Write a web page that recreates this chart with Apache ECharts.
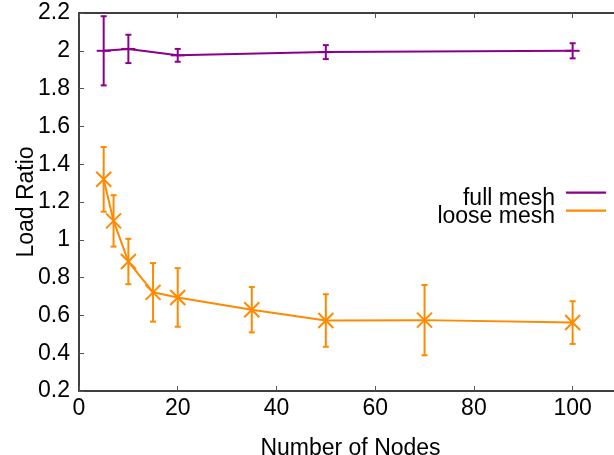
<!DOCTYPE html>
<html>
<head>
<meta charset="utf-8">
<title>Load Ratio</title>
<script src="https://cdn.jsdelivr.net/npm/echarts@6/dist/echarts.min.js"></script>
<style>
  html, body { margin: 0; padding: 0; background: #fff; }
  #main { width: 614px; height: 455px; }
</style>
</head>
<body>
<div id="main"></div>
<script>
// data
var nodesFull = [5, 10, 20, 50, 100];
var fullMesh = [2.00, 2.01, 1.976, 1.993, 2.00];
var fullErr = [0.183, 0.075, 0.034, 0.037, 0.04];

var nodesLoose = [5, 7, 10, 15, 20, 35, 50, 70, 100];
var looseMesh = [1.32, 1.10, 0.885, 0.722, 0.695, 0.63, 0.573, 0.575, 0.562];
var looseErr = [0.171, 0.136, 0.12, 0.155, 0.155, 0.12, 0.139, 0.186, 0.113];

var FONT = 'Liberation Sans, Arial, sans-serif';
var PURPLE = '#8b008b';
var ORANGE = '#ff8a00';

function zip2(xs, ys) {
  var out = [];
  for (var i = 0; i < xs.length; i++) out.push([xs[i], ys[i]]);
  return out;
}
function zip3(xs, ys, es) {
  var out = [];
  for (var i = 0; i < xs.length; i++) out.push([xs[i], ys[i], es[i]]);
  return out;
}

// error bar + point marker, drawn through the axes' own coord()
function errRender(color, marker) {
  return function (params, api) {
    var x = api.value(0), y = api.value(1), e = api.value(2);
    var p = api.coord([x, y]);
    var hi = api.coord([x, y + e]);
    var lo = api.coord([x, y - e]);
    var st = { stroke: color, lineWidth: 2 };
    var cap = 3, m = 7.5;
    var kids = [
      { type: 'line', shape: { x1: p[0], y1: hi[1], x2: p[0], y2: lo[1] }, style: st },
      { type: 'line', shape: { x1: p[0] - cap, y1: hi[1], x2: p[0] + cap, y2: hi[1] }, style: st },
      { type: 'line', shape: { x1: p[0] - cap, y1: lo[1], x2: p[0] + cap, y2: lo[1] }, style: st }
    ];
    if (marker === 'plus') {
      kids.push({ type: 'line', shape: { x1: p[0] - 7, y1: p[1], x2: p[0] + 7, y2: p[1] }, style: st });
    } else {
      kids.push({ type: 'line', shape: { x1: p[0] - m, y1: p[1] - m, x2: p[0] + m, y2: p[1] + m }, style: st });
      kids.push({ type: 'line', shape: { x1: p[0] - m, y1: p[1] + m, x2: p[0] + m, y2: p[1] - m }, style: st });
    }
    return { type: 'group', children: kids };
  };
}

var chart = echarts.init(document.getElementById('main'));

// line sample sits high in the item box, with a gap on its left
var legendBase = {
  orient: 'vertical',
  align: 'right',
  right: 8,
  padding: 0,
  icon: 'path://M6,0H46V2H6Z M0,12H0.001V12.001H0Z',
  symbolKeepAspect: false,
  itemWidth: 46,
  itemHeight: 14,
  selectedMode: false,
  textStyle: { fontFamily: FONT, fontSize: 23, color: '#000' }
};

chart.setOption({
  animation: false,
  textStyle: { fontFamily: FONT },
  grid: { left: 79, right: -8, top: 13, bottom: 64, outerBoundsMode: 'none', containLabel: false },
  legend: [
    Object.assign({}, legendBase, { top: 187, data: ['full mesh'] }),
    Object.assign({}, legendBase, { top: 205, data: ['loose mesh'] })
  ],
  xAxis: [{
    type: 'value',
    min: 0, max: 110, interval: 20,
    name: 'Number of Nodes',
    nameLocation: 'middle',
    nameGap: 46,
    nameMoveOverlap: false,
    nameTextStyle: { fontFamily: FONT, fontSize: 23, color: '#000' },
    axisLine: { lineStyle: { color: '#000', width: 1.5 } },
    axisTick: { inside: true, length: 5, lineStyle: { color: '#555' } },
    axisLabel: { fontFamily: FONT, fontSize: 23, color: '#000', margin: 6, showMaxLabel: false },
    splitLine: { show: false }
  }, {
    type: 'value',
    position: 'top',
    min: 0, max: 110, interval: 20,
    axisLine: { show: true, lineStyle: { color: '#000', width: 1.5 } },
    axisTick: { show: true, inside: true, length: 5, lineStyle: { color: '#555' } },
    axisLabel: { show: false },
    splitLine: { show: false }
  }],
  yAxis: {
    type: 'value',
    min: 0.2, max: 2.2, interval: 0.2,
    name: 'Load Ratio',
    nameLocation: 'middle',
    nameGap: 41,
    nameMoveOverlap: false,
    nameTextStyle: { fontFamily: FONT, fontSize: 23, color: '#000' },
    axisLine: { show: true, lineStyle: { color: '#000', width: 1.5 } },
    axisTick: { show: true, inside: true, length: 5, lineStyle: { color: '#555' } },
    axisLabel: { fontFamily: FONT, fontSize: 23, color: '#000', margin: 9 },
    splitLine: { show: false }
  },
  series: [{
    name: 'full mesh',
    type: 'line',
    data: zip2(nodesFull, fullMesh),
    showSymbol: false,
    color: PURPLE,
    lineStyle: { width: 2, color: PURPLE }
  }, {
    name: 'loose mesh',
    type: 'line',
    data: zip2(nodesLoose, looseMesh),
    showSymbol: false,
    color: ORANGE,
    lineStyle: { width: 2, color: ORANGE }
  }, {
    name: 'full mesh err',
    type: 'custom',
    renderItem: errRender(PURPLE, 'plus'),
    data: zip3(nodesFull, fullMesh, fullErr),
    encode: { x: 0, y: 1 },
    z: 3
  }, {
    name: 'loose mesh err',
    type: 'custom',
    renderItem: errRender(ORANGE, 'cross'),
    data: zip3(nodesLoose, looseMesh, looseErr),
    encode: { x: 0, y: 1 },
    z: 3
  }]
});
</script>
</body>
</html>
